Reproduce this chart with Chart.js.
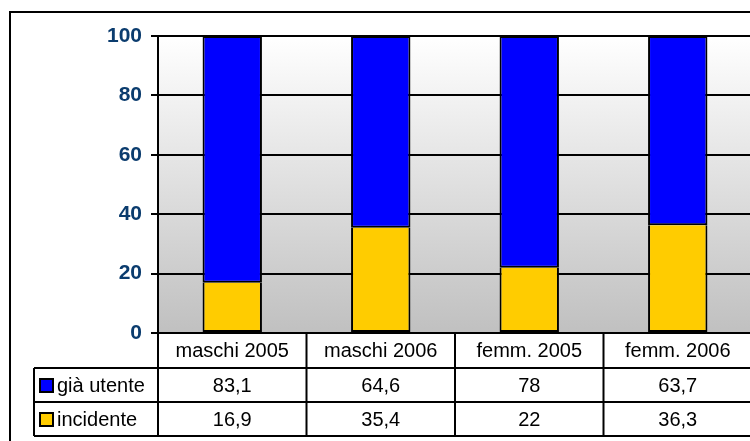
<!DOCTYPE html>
<html>
<head>
<meta charset="utf-8">
<script src="https://cdn.jsdelivr.net/npm/chart.js@4/dist/chart.umd.min.js"></script>
<style>
  html, body { margin: 0; padding: 0; background: #fff; overflow: hidden; }
  canvas { display: block; }
</style>
</head>
<body>
<canvas id="chart" width="760" height="441"></canvas>
<script>
// dati
var categorie = ['maschi 2005', 'maschi 2006', 'femm. 2005', 'femm. 2006'];
var giaUtente = [83.1, 64.6, 78, 63.7];
var incidente = [16.9, 35.4, 22, 36.3];
var serieNomi = ['già utente', 'incidente'];
var serieColori = ['#0000ff', '#ffcc00'];

var FONT = 'Arial, "Liberation Sans", sans-serif';

function formatta(v) {
    return String(v).replace('.', ',');
}

// sfondo, cornice e tabella dati sotto il grafico
var tabellaPlugin = {
    id: 'tabella',
    beforeDraw: function (chart) {
        var ctx = chart.ctx, a = chart.chartArea;
        ctx.save();
        ctx.fillStyle = '#fff';
        ctx.fillRect(0, 0, chart.width, chart.height);
        var g = ctx.createLinearGradient(0, a.top, 0, a.bottom);
        g.addColorStop(0, '#ffffff');
        g.addColorStop(1, '#c0c0c0');
        ctx.fillStyle = g;
        ctx.fillRect(a.left, a.top, a.right - a.left, a.bottom - a.top);
        ctx.strokeStyle = '#000';
        ctx.lineWidth = 2;
        ctx.strokeRect(10, 12, chart.width + 20, chart.height + 20);
        ctx.restore();
    },
    afterDraw: function (chart) {
        var ctx = chart.ctx, a = chart.chartArea, x = chart.scales.x;
        var n = categorie.length;
        var w = (a.right - a.left) / n;
        var y0 = a.bottom, y1 = y0 + 35, y2 = y1 + 34, y3 = y2 + 34;
        var sx = 34;
        ctx.save();
        ctx.strokeStyle = '#000';
        ctx.lineWidth = 2;
        ctx.beginPath();
        ctx.moveTo(a.left, y0); ctx.lineTo(a.right, y0);
        [y1, y2, y3].forEach(function (y) {
            ctx.moveTo(sx, y); ctx.lineTo(a.right, y);
        });
        ctx.moveTo(sx, y1); ctx.lineTo(sx, y3);
        for (var i = 0; i <= n; i++) {
            var bx = a.left + i * w;
            ctx.moveTo(bx, y0); ctx.lineTo(bx, y3);
        }
        ctx.stroke();

        ctx.fillStyle = '#000';
        ctx.font = '20px ' + FONT;
        ctx.textAlign = 'center';
        ctx.textBaseline = 'middle';
        var righe = [giaUtente, incidente];
        for (var j = 0; j < n; j++) {
            var cx = x.getPixelForValue(j);
            ctx.fillText(categorie[j], cx, (y0 + y1) / 2 + 1);
            ctx.fillText(formatta(righe[0][j]), cx, (y1 + y2) / 2 + 1);
            ctx.fillText(formatta(righe[1][j]), cx, (y2 + y3) / 2 + 1);
        }
        ctx.textAlign = 'left';
        var centri = [(y1 + y2) / 2, (y2 + y3) / 2];
        for (var k = 0; k < serieNomi.length; k++) {
            var cy = centri[k];
            ctx.fillStyle = serieColori[k];
            ctx.fillRect(40, cy - 6, 13, 13);
            ctx.lineWidth = 2;
            ctx.strokeRect(40, cy - 6, 13, 13);
            ctx.fillStyle = '#000';
            ctx.fillText(serieNomi[k], 57, cy + 1);
        }
        ctx.restore();
    }
};

new Chart(document.getElementById('chart'), {
    type: 'bar',
    data: {
        labels: categorie,
        datasets: [{
            label: serieNomi[1],
            data: incidente,
            backgroundColor: serieColori[1],
            borderColor: '#000',
            borderWidth: 2,
            borderSkipped: 'end'
        }, {
            label: serieNomi[0],
            data: giaUtente,
            backgroundColor: serieColori[0],
            borderColor: '#000',
            borderWidth: 2,
            borderSkipped: false
        }]
    },
    options: {
        responsive: false,
        animation: false,
        layout: { padding: { left: 0, top: 36, right: 8, bottom: 108 } },
        datasets: { bar: { categoryPercentage: 1, barPercentage: 0.4 } },
        plugins: {
            legend: { display: false },
            tooltip: { enabled: false }
        },
        scales: {
            x: {
                stacked: true,
                display: false
            },
            y: {
                stacked: true,
                min: 0,
                max: 100,
                afterFit: function (scale) { scale.width = 158; },
                ticks: {
                    stepSize: 20,
                    padding: 9,
                    color: '#0b3c6e',
                    font: { family: FONT, size: 21, weight: 'bold' }
                },
                grid: {
                    color: '#000',
                    lineWidth: 2,
                    tickLength: 7
                },
                border: { color: '#000', width: 2 }
            }
        }
    },
    plugins: [tabellaPlugin]
});
</script>
</body>
</html>
